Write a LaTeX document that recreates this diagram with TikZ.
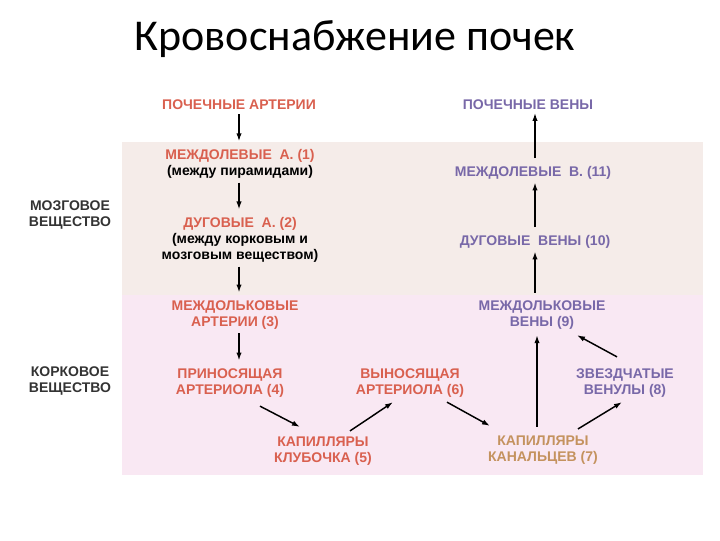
\documentclass[tikz,border=0pt]{standalone}
\usepackage{fontspec}
\setmainfont{Liberation Sans}
\newfontfamily\titlefont{Carlito}
\usetikzlibrary{arrows.meta}

\definecolor{art}{HTML}{D9604F}
\definecolor{ven}{HTML}{7868A8}
\definecolor{cap}{HTML}{C4925E}
\definecolor{medulla}{HTML}{F5ECE9}
\definecolor{cortex}{HTML}{F9E8F3}

\begin{document}
\begin{tikzpicture}[x=0.75pt,y=-0.75pt,
  lbl/.style={font=\fontsize{10.5}{11.8}\selectfont\bfseries, align=center, inner sep=2pt},
  arr/.style={->,>={Latex[length=6pt,width=4pt]},line width=1.1pt},
  down/.style={arr,shorten <=1pt,shorten >=4pt},
  up/.style={arr,shorten <=4pt,shorten >=0pt}]

\useasboundingbox (0,0) rectangle (720,540);
\fill[medulla] (122,142) rectangle (703,295);
\fill[cortex] (122,295) rectangle (703,475);

\node[font=\titlefont\fontsize{33}{38}\selectfont, anchor=base] (title) at (355,50) {Кровоснабжение почек};

\node[lbl, text=black!80] (med) at (70,215) {МОЗГОВОЕ\\ВЕЩЕСТВО};
\node[lbl, text=black!80] (cor) at (70,381) {КОРКОВОЕ\\ВЕЩЕСТВО};

% arteries
\node[lbl, text=art] (ra) at (239,105) {ПОЧЕЧНЫЕ АРТЕРИИ};
\node[lbl] (a1) at (240,164) {\textcolor{art}{МЕЖДОЛЕВЫЕ\ \ А. (1)}\\(между пирамидами)};
\node[lbl] (a2) at (240,240) {\textcolor{art}{ДУГОВЫЕ\ \ А. (2)}\\(между корковым и\\мозговым веществом)};
\node[lbl, text=art] (a3) at (235,315) {МЕЖДОЛЬКОВЫЕ\\АРТЕРИИ (3)};
\node[lbl, text=art] (a4) at (230,383) {ПРИНОСЯЩАЯ\\АРТЕРИОЛА (4)};
\node[lbl, text=art] (c5) at (323,451) {КАПИЛЛЯРЫ\\КЛУБОЧКА (5)};
\node[lbl, text=art] (a6) at (410,383) {ВЫНОСЯЩАЯ\\АРТЕРИОЛА (6)};

% veins
\node[lbl, text=cap] (c7) at (543,450) {КАПИЛЛЯРЫ\\КАНАЛЬЦЕВ (7)};
\node[lbl, text=ven] (v8) at (625,383) {ЗВЕЗДЧАТЫЕ\\ВЕНУЛЫ (8)};
\node[lbl, text=ven] (v9) at (542,315) {МЕЖДОЛЬКОВЫЕ\\ВЕНЫ (9)};
\node[lbl, text=ven] (v10) at (535,242) {ДУГОВЫЕ\ \ ВЕНЫ (10)};
\node[lbl, text=ven] (v11) at (533,173) {МЕЖДОЛЕВЫЕ\ \ В. (11)};
\node[lbl, text=ven] (rv) at (528,105) {ПОЧЕЧНЫЕ ВЕНЫ};

\draw[down] (ra.south -| ra) -- (a1.north -| ra);
\draw[down] (a1.south -| ra) -- (a2.north -| ra);
\draw[down] (a2.south -| ra) -- (a3.north -| ra);
\draw[down] (a3.south -| ra) -- (a4.north -| ra);
\draw[arr] ([shift={(30,6)}]a4.south) -- ([shift={(-23,-7)}]c5.north);
\draw[arr] ([shift={(27,-3)}]c5.north) -- ([shift={(-17,2)}]a6.south);
\draw[arr] ([shift={(37,2)}]a6.south) -- ([shift={(-53,-7)}]c7.north);
\draw[arr] ([shift={(-6,-6)}]c7.north) -- ([shift={(-5,3)}]v9.south);
\draw[arr] ([shift={(35,-4)}]c7.north) -- ([shift={(-3,2)}]v8.south);
\draw[arr] ([shift={(-8,-9)}]v8.north) -- ([shift={(35,3)}]v9.south);
\draw[up] (v9.north -| v10) -- (v10.south -| v10);
\draw[up] (v10.north -| v10) -- (v11.south -| v10);
\draw[up] (v11.north -| v10) -- (rv.south -| v10);

\end{tikzpicture}
\end{document}
